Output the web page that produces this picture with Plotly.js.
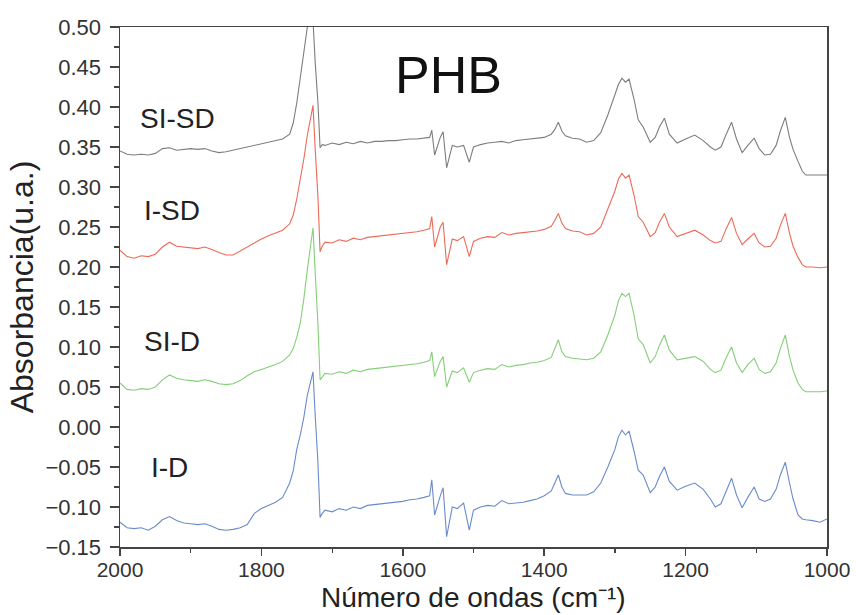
<!DOCTYPE html>
<html>
<head>
<meta charset="utf-8">
<script src="https://cdn.plot.ly/plotly-3.0.1.min.js"></script>
<style>html,body{margin:0;padding:0;background:#fff;}#chart{width:856px;height:615px;}</style>
</head>
<body>
<div id="chart"></div>
<script>
// Wavenumber (cm^-1)
const wavenumber = [
  2000,1990,1980,1970,1960,1950,1940,1930,1920,1910,
  1900,1890,1880,1870,1860,1850,1840,1830,1820,1810,
  1800,1790,1780,1770,1760,1755,1750,1745,1740,1735,
  1730,1727,1724,1720,1717,1714,1710,1700,1690,1680,
  1670,1660,1650,1640,1630,1620,1610,1600,1590,1580,
  1570,1562,1559,1555,1547,1543,1538,1530,1523,1514,
  1506,1500,1490,1480,1470,1460,1450,1440,1430,1420,
  1410,1400,1390,1385,1380,1375,1370,1360,1350,1340,
  1330,1320,1310,1300,1295,1290,1285,1280,1273,1267,
  1260,1250,1243,1237,1230,1223,1212,1200,1187,1175,
  1165,1158,1150,1143,1135,1128,1120,1112,1103,1096,
  1088,1080,1072,1066,1059,1053,1048,1041,1035,1030,
  1020,1010,1000
];

const siSD = [
  0.345,0.341,0.340,0.341,0.340,0.342,0.348,0.349,0.346,0.347,
  0.348,0.347,0.348,0.345,0.343,0.344,0.346,0.348,0.350,0.352,
  0.354,0.356,0.358,0.360,0.366,0.380,0.405,0.435,0.465,0.500,
  0.560,0.500,0.457,0.405,0.349,0.353,0.352,0.355,0.353,0.356,
  0.354,0.357,0.355,0.357,0.357,0.358,0.358,0.359,0.360,0.360,
  0.361,0.362,0.371,0.340,0.362,0.369,0.324,0.352,0.350,0.352,
  0.331,0.350,0.353,0.355,0.356,0.357,0.355,0.358,0.359,0.360,
  0.361,0.362,0.366,0.372,0.381,0.370,0.364,0.361,0.360,0.356,
  0.358,0.368,0.390,0.415,0.428,0.436,0.431,0.435,0.410,0.384,
  0.375,0.356,0.362,0.375,0.386,0.366,0.355,0.360,0.365,0.358,
  0.350,0.346,0.350,0.365,0.381,0.360,0.343,0.352,0.361,0.348,
  0.340,0.341,0.352,0.370,0.387,0.362,0.347,0.332,0.320,0.315,
  0.315,0.315,0.315
];

const iSD = [
  0.221,0.213,0.211,0.214,0.213,0.216,0.225,0.231,0.226,0.225,
  0.224,0.223,0.225,0.222,0.218,0.215,0.215,0.220,0.226,0.231,
  0.235,0.239,0.243,0.246,0.254,0.265,0.285,0.309,0.335,0.365,
  0.390,0.402,0.349,0.287,0.219,0.226,0.231,0.230,0.234,0.232,
  0.236,0.234,0.237,0.238,0.239,0.240,0.241,0.242,0.243,0.244,
  0.246,0.248,0.263,0.225,0.250,0.256,0.203,0.235,0.233,0.238,
  0.213,0.232,0.236,0.238,0.237,0.243,0.240,0.242,0.243,0.244,
  0.245,0.247,0.251,0.258,0.267,0.255,0.248,0.245,0.244,0.240,
  0.242,0.250,0.272,0.295,0.310,0.317,0.311,0.315,0.290,0.263,
  0.256,0.238,0.243,0.256,0.267,0.250,0.238,0.242,0.246,0.240,
  0.233,0.230,0.232,0.247,0.262,0.242,0.228,0.235,0.242,0.230,
  0.225,0.226,0.236,0.252,0.267,0.242,0.226,0.212,0.203,0.200,
  0.200,0.199,0.200
];

const siD = [
  0.055,0.047,0.046,0.048,0.047,0.050,0.059,0.065,0.061,0.059,
  0.058,0.057,0.059,0.057,0.054,0.053,0.054,0.058,0.064,0.069,
  0.072,0.075,0.078,0.082,0.090,0.098,0.112,0.130,0.160,0.197,
  0.232,0.249,0.195,0.128,0.059,0.063,0.067,0.066,0.069,0.067,
  0.071,0.069,0.072,0.073,0.074,0.075,0.076,0.077,0.078,0.079,
  0.081,0.083,0.094,0.063,0.082,0.088,0.050,0.070,0.068,0.074,
  0.056,0.068,0.071,0.073,0.072,0.078,0.075,0.077,0.078,0.080,
  0.081,0.083,0.087,0.098,0.109,0.094,0.088,0.086,0.085,0.084,
  0.086,0.094,0.115,0.140,0.158,0.167,0.163,0.167,0.140,0.110,
  0.103,0.080,0.088,0.102,0.115,0.096,0.084,0.086,0.088,0.082,
  0.072,0.068,0.071,0.086,0.100,0.080,0.068,0.078,0.086,0.072,
  0.067,0.069,0.080,0.098,0.115,0.088,0.071,0.055,0.047,0.044,
  0.044,0.044,0.045
];

const iD = [
  -0.119,-0.126,-0.127,-0.126,-0.129,-0.124,-0.116,-0.112,-0.117,-0.120,
  -0.121,-0.122,-0.121,-0.124,-0.128,-0.129,-0.128,-0.126,-0.122,-0.108,
  -0.102,-0.098,-0.094,-0.088,-0.070,-0.055,-0.028,-0.010,0.012,0.040,
  0.060,0.069,0.016,-0.045,-0.113,-0.108,-0.104,-0.106,-0.102,-0.104,
  -0.100,-0.102,-0.098,-0.097,-0.096,-0.095,-0.094,-0.093,-0.091,-0.090,
  -0.088,-0.086,-0.066,-0.110,-0.086,-0.076,-0.137,-0.100,-0.102,-0.095,
  -0.129,-0.104,-0.100,-0.098,-0.099,-0.092,-0.096,-0.095,-0.094,-0.092,
  -0.090,-0.086,-0.080,-0.070,-0.060,-0.075,-0.083,-0.085,-0.085,-0.085,
  -0.081,-0.070,-0.050,-0.028,-0.012,-0.004,-0.010,-0.005,-0.030,-0.054,
  -0.060,-0.082,-0.075,-0.062,-0.050,-0.068,-0.079,-0.074,-0.070,-0.078,
  -0.090,-0.100,-0.096,-0.080,-0.064,-0.085,-0.101,-0.088,-0.075,-0.090,
  -0.093,-0.090,-0.078,-0.060,-0.044,-0.070,-0.090,-0.110,-0.115,-0.116,
  -0.117,-0.119,-0.115
];

const seriesNames = ['SI-SD','I-SD','SI-D','I-D'];
const seriesColors = ['#7d7d7d','#ec6a58','#84cf78','#6a8bcb'];
const seriesData = [siSD, iSD, siD, iD];
const labelX = [1919, 1926, 1926, 1930];
const labelY = [0.386, 0.271, 0.107, -0.05];

const traces = seriesData.map((y, i) => ({
  x: wavenumber, y: y, type: 'scatter', mode: 'lines', name: seriesNames[i],
  line: {color: seriesColors[i], width: 1.1}, hoverinfo: 'x+y+name'
}));

const font = 'Liberation Sans, Arial, sans-serif';
const annotations = seriesNames.map((n, i) => ({
  x: labelX[i], y: labelY[i], xref: 'x', yref: 'y', text: n, showarrow: false,
  font: {family: font, size: 28, color: '#222'}, xanchor: 'center', yanchor: 'middle'
}));
annotations.push({
  x: 1535, y: 0.44, xref: 'x', yref: 'y', text: 'PHB', showarrow: false,
  font: {family: font, size: 52, color: '#111'}, xanchor: 'center', yanchor: 'middle'
});
// x-axis title placed at the bottom edge, as in the reference
annotations.push({
  x: 0.5, y: 0, xref: 'paper', yref: 'paper', yshift: -68, text: 'Número de ondas (cm⁻¹)',
  showarrow: false, font: {family: font, size: 28, color: '#222'}, xanchor: 'center', yanchor: 'bottom'
});

const layout = {
  width: 856, height: 615,
  margin: {l: 120, r: 29, t: 27, b: 68},
  paper_bgcolor: '#fff', plot_bgcolor: '#fff',
  showlegend: false,
  font: {family: font, color: '#333'},
  xaxis: {
    range: [2000, 1000], autorange: false, dtick: 200, tick0: 1000,
    ticks: 'outside', ticklen: 7, tickwidth: 1.5, tickcolor: '#444',
    minor: {dtick: 100, ticks: 'outside', ticklen: 4, tickwidth: 1.2, tickcolor: '#444'},
    showline: true, linecolor: '#444', linewidth: 1.5, mirror: true,
    showgrid: false, zeroline: false, ticklabelstandoff: -4,
    tickfont: {family: font, size: 21, color: '#333'}
  },
  yaxis: {
    range: [-0.15, 0.5], autorange: false, dtick: 0.05, tick0: 0, tickformat: '.2f',
    ticks: 'outside', ticklen: 9, tickwidth: 1.5, tickcolor: '#444',
    minor: {dtick: 0.025, ticks: 'outside', ticklen: 5, tickwidth: 1.2, tickcolor: '#444'},
    showline: true, linecolor: '#444', linewidth: 1.5, mirror: true,
    showgrid: false, zeroline: false, ticklabelstandoff: 4,
    tickfont: {family: font, size: 22, color: '#333'},
    title: {text: 'Absorbancia(u.a.)', font: {family: font, size: 32, color: '#222'}, standoff: 2}
  },
  annotations: annotations
};

Plotly.newPlot('chart', traces, layout, {displayModeBar: false, staticPlot: true});
</script>
</body>
</html>
